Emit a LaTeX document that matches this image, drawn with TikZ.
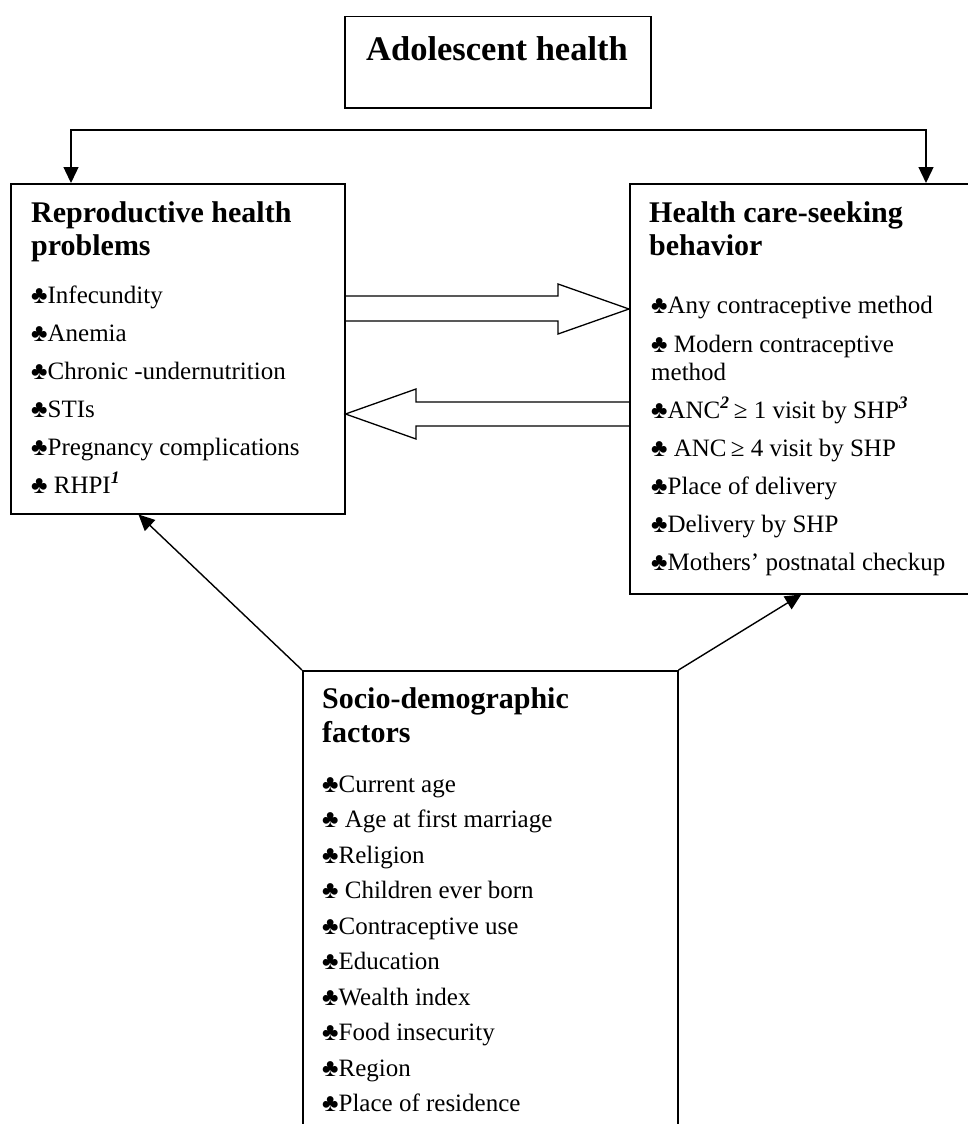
\documentclass[tikz,border=0pt]{standalone}
\usepackage{fontspec}
\setmainfont{Liberation Serif}
\usetikzlibrary{arrows.meta,calc}
\newcommand{\clb}{♣}
\newcommand{\supbi}[1]{\textsuperscript{\textbf{\textit{#1}}}}
\tikzset{
  box/.style={draw, line width=1.5pt, rectangle, inner sep=0pt, anchor=north west},
  head/.style={font=\fontsize{30}{33}\selectfont\bfseries, anchor=base west, inner sep=0pt},
  item/.style={font=\fontsize{25}{30}\selectfont, anchor=base west, inner sep=0pt},
  tip/.tip={Triangle[length=16pt,width=15pt]},
  arr/.style={line width=1.4pt, -tip},
  blk/.style={line width=1.3pt, line join=miter}
}
\begin{document}
\begin{tikzpicture}[x=1pt,y=-1pt]
    \clip (0,0) rectangle (968,1124);
    \fill[white] (0,0) rectangle (968,1124);
    % boxes
    \node[box, minimum width=306pt, minimum height=91pt] (adol) at (344,16) {};
    \node[box, minimum width=334pt, minimum height=330pt] (rhp) at (10,183) {};
    \node[box, minimum width=350pt, minimum height=410pt] (hcs) at (629,183) {};
    \node[box, minimum width=375pt, minimum height=520pt] (sdf) at (302,670) {};
    % title
    \node[font=\fontsize{34.5}{40}\selectfont\bfseries, anchor=base, inner sep=0pt]
      (adoltxt) at (497,60) {Adolescent health};
    % headings
    \node[head] (rhph1) at (31,222) {Reproductive health};
    \node[head] (rhph2) at (31,255) {problems};
    \node[head] (hcsh1) at (649,222) {Health care-seeking};
    \node[head] (hcsh2) at (649,255) {behavior};
    \node[head] (sdfh1) at (322,708) {Socio-demographic};
    \node[head] (sdfh2) at (322,742) {factors};
    % items of the left box
    \foreach \t [count=\i from 0] in {\clb Infecundity, \clb Anemia,
      \clb Chronic -undernutrition, \clb STIs, \clb Pregnancy complications,
      {\clb\ RHPI\supbi{1}}}
      \node[item] (rhp-\i) at (31,{303+38*\i}) {\t};
    % items of the right box
    \node[item] (hcs-1) at (651,313) {\clb Any contraceptive method};
    \node[item] (hcs-2) at (651,352) {\clb\ Modern contraceptive};
    \node[item] (hcs-2b) at (651,380) {method};
    \node[item] (hcs-3) at (651,418) {\clb ANC\supbi{2}\,≥ 1 visit by SHP\supbi{3}};
    \node[item] (hcs-4) at (651,456) {\clb\ ANC\,≥ 4 visit by SHP};
    \node[item] (hcs-5) at (651,494) {\clb Place of delivery};
    \node[item] (hcs-6) at (651,532) {\clb Delivery by SHP};
    \node[item] (hcs-7) at (651,570) {\clb Mothers’ postnatal checkup};
    % items of the bottom box
    \foreach \t [count=\i from 0] in {\clb Current age, \clb\ Age at first marriage,
      \clb Religion, \clb\ Children ever born, \clb Contraceptive use,
      \clb Education, \clb Wealth index, \clb Food insecurity, \clb Region,
      \clb Place of residence}
      \node[item] (sdf-\i) at (322,{792+35.55*\i}) {\t};
    % split from the title level down to both boxes
    \coordinate (tl) at (71,130);
    \coordinate (tr) at (926,130);
    \draw[arr, tip-tip] (rhp.north -| tl) |- (tr) -- (hcs.north -| tr);
    % block arrows between the two upper boxes
    \draw[blk] (rhp.east |- 0,296) -- (558,296) -- (558,284) -- (hcs.west |- 0,309)
      -- (558,334) -- (558,321) -- (rhp.east |- 0,321);
    \draw[blk] (hcs.west |- 0,402) -- (416,402) -- (416,389) -- (rhp.east |- 0,414)
      -- (416,439) -- (416,426) -- (hcs.west |- 0,426);
    % socio-demographic factors to both boxes
    \draw[arr] (sdf.north west) -- ($(rhp.south west)!0.383!(rhp.south east)$);
    \draw[arr] (sdf.north east) -- ($(hcs.south west)!0.49!(hcs.south east)$);
\end{tikzpicture}
\end{document}
